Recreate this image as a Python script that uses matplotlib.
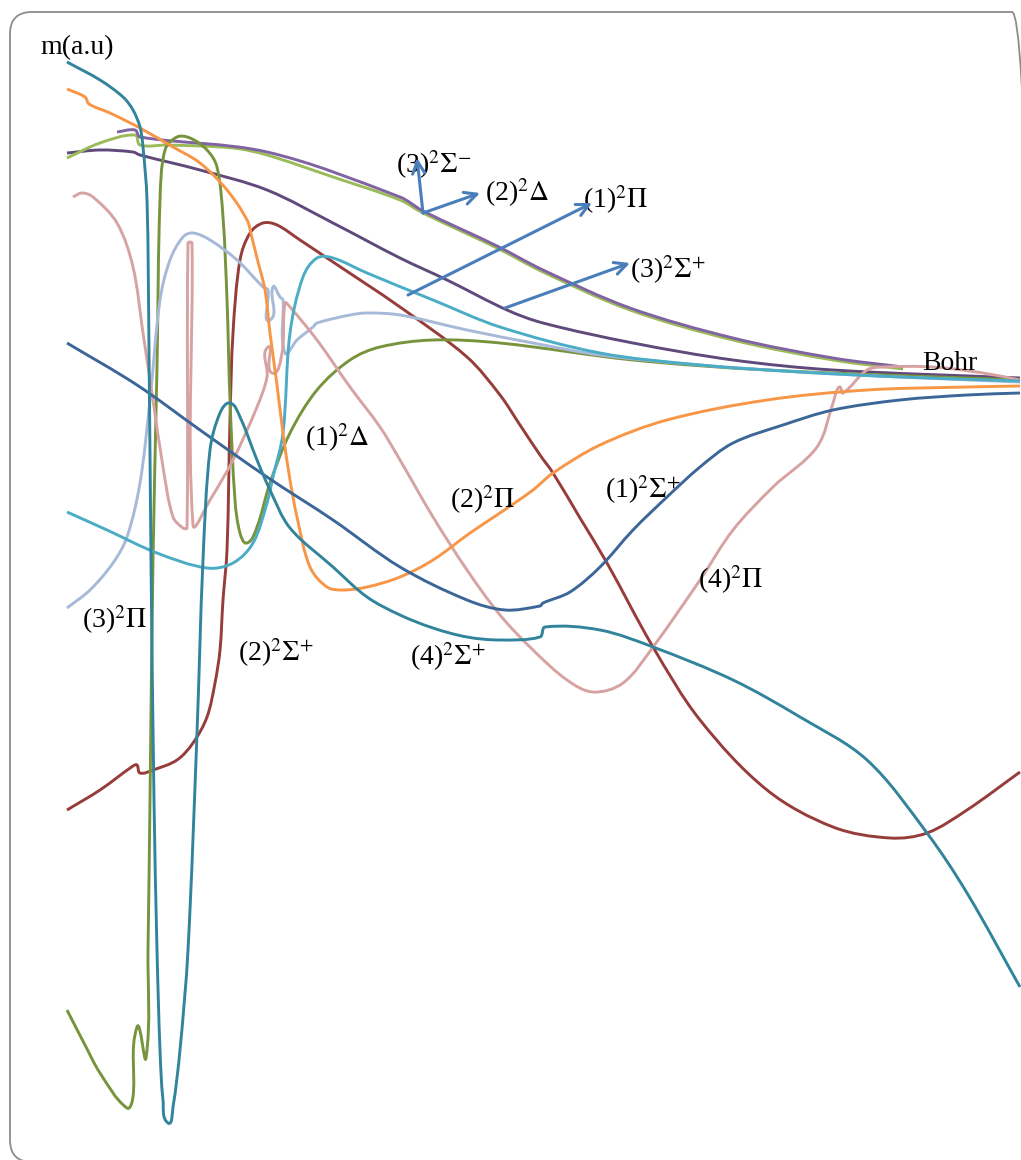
import matplotlib
matplotlib.use("Agg")
import numpy as np
import matplotlib.pyplot as plt
from matplotlib.patches import FancyBboxPatch, PathPatch
from matplotlib.path import Path

plt.rcParams['font.family'] = ['Liberation Serif', 'DejaVu Serif']
plt.rcParams['mathtext.fontset'] = 'stix'

# transition dipole moments m (a.u.) vs internuclear distance R (Bohr)
r_1sig = [2.00, 2.70, 3.33, 4.00, 4.66, 5.33, 6.00, 6.38, 6.73, 6.76, 7.03, 7.33, 7.66, 8.00, 8.33, 8.66, 9.16, 9.66, 10.33, 11.00, 11.53]
m_1sig = [0.37, -0.05, -0.50, -0.97, -1.40, -1.87, -2.20, -2.30, -2.26, -2.23, -2.12, -1.87, -1.50, -1.17, -0.87, -0.63, -0.45, -0.30, -0.20, -0.15, -0.13]

r_2pi = [2.00, 2.18, 2.22, 2.43, 2.73, 3.06, 3.33, 3.60, 3.80, 3.85, 3.90, 3.98, 4.03, 4.10, 4.16, 4.23, 4.30, 4.43, 4.60, 4.76, 5.00,
         5.33, 5.66, 6.03, 6.33, 6.66, 6.86, 7.33, 8.00, 9.00, 10.00, 11.00, 11.53]
m_2pi = [2.91, 2.83, 2.76, 2.67, 2.52, 2.33, 2.17, 1.90, 1.60, 1.42, 1.22, 0.90, 0.47, -0.05, -0.53, -1.00, -1.37, -1.87, -2.07, -2.10, -2.07,
         -1.97, -1.80, -1.53, -1.33, -1.10, -0.93, -0.65, -0.40, -0.20, -0.10, -0.07, -0.06]

r_4sig = [2.00, 2.33, 2.56, 2.66, 2.73, 2.76, 2.80, 2.82, 2.84, 2.87, 2.90, 2.93, 2.96, 3.01, 3.06, 3.13, 3.21, 3.30, 3.36, 3.43,
          3.53, 3.63, 3.73, 3.90, 4.03, 4.23, 4.66, 5.00, 5.33, 5.66, 6.00, 6.33, 6.73, 6.78, 7.33, 7.86, 8.66, 9.33, 10.00, 10.60,
          11.00, 11.53]
m_4sig = [3.18, 3.00, 2.83, 2.70, 2.53, 2.33, 1.80, 0.30, -1.80, -4.20, -5.70, -6.70, -7.20, -7.43, -7.27, -6.70, -5.70, -3.53, -1.80, -0.70,
          -0.33, -0.23, -0.37, -0.80, -1.10, -1.48, -1.87, -2.17, -2.35, -2.48, -2.57, -2.60, -2.57, -2.47, -2.50, -2.67, -3.00, -3.37, -3.80, -4.53,
          -5.13, -6.07]

r_1del = [2.00, 2.18, 2.33, 2.60, 2.66, 2.70, 2.79, 2.81, 2.83, 2.86, 2.90, 2.93, 2.98, 3.10, 3.23, 3.40, 3.50, 3.56, 3.60, 3.63,
          3.68, 3.73, 3.80, 3.90, 4.03, 4.23, 4.50, 4.83, 5.13, 5.66, 6.33, 7.66, 9.00, 11.53]
m_1del = [-6.30, -6.65, -6.93, -7.28, -7.17, -6.47, -6.78, -5.70, -4.20, -1.80, 0.13, 1.80, 2.30, 2.43, 2.42, 2.30, 2.13, 1.63, 0.80, -0.20,
          -1.20, -1.53, -1.63, -1.47, -1.03, -0.53, -0.10, 0.20, 0.33, 0.40, 0.37, 0.20, 0.10, 0.00]

r_3sigm = [2.00, 2.33, 2.68, 2.73, 3.00, 3.66, 4.00, 4.66, 5.33, 5.56, 6.30, 6.76, 7.63, 8.66, 9.66, 10.36]
m_3sigm = [2.22, 2.37, 2.45, 2.35, 2.35, 2.32, 2.25, 2.03, 1.80, 1.67, 1.32, 1.08, 0.70, 0.40, 0.20, 0.11]

r_2del = [2.50, 2.68, 2.73, 4.00, 5.33, 5.56, 6.30, 6.76, 7.63, 8.66, 9.66, 10.36]
m_2del = [2.48, 2.50, 2.43, 2.28, 1.83, 1.69, 1.34, 1.10, 0.72, 0.42, 0.22, 0.13]

r_1pi = [2.00, 2.33, 2.66, 2.73, 3.33, 4.00, 4.66, 5.33, 5.80, 6.40, 6.76, 7.66, 8.66, 9.66, 11.53]
m_1pi = [2.27, 2.30, 2.28, 2.25, 2.10, 1.90, 1.57, 1.22, 1.00, 0.70, 0.57, 0.37, 0.20, 0.10, 0.02]

r_4pi = [2.06, 2.15, 2.26, 2.50, 2.66, 2.76, 2.86, 2.96, 3.06, 3.16, 3.20, 3.21, 3.25, 3.26, 3.43, 3.66, 3.90, 4.00, 4.01, 4.05,
         4.15, 4.18, 4.23, 4.50, 4.83, 5.13, 5.33, 5.66, 6.00, 6.33, 6.66, 7.00, 7.26, 7.56, 7.86, 8.33, 8.66, 9.06, 9.50, 9.66,
         9.70, 9.73, 9.76, 10.00, 10.16, 10.66, 11.16, 11.53]
m_4pi = [1.83, 1.87, 1.83, 1.57, 1.13, 0.47, -0.20, -0.87, -1.37, -1.48, -1.48, 1.37, 1.37, -1.45, -1.20, -0.80, -0.27, 0.03, 0.33, 0.07,
         0.27, 0.77, 0.73, 0.40, -0.07, -0.47, -0.80, -1.37, -1.90, -2.35, -2.70, -3.00, -3.12, -3.03, -2.67, -2.00, -1.50, -1.07, -0.67, -0.23,
         -0.10, -0.07, -0.13, 0.10, 0.13, 0.13, 0.07, 0.00]

r_3pi = [2.00, 2.23, 2.46, 2.60, 2.73, 2.83, 2.93, 3.03, 3.16, 3.26, 3.43, 3.70, 3.96, 4.01, 4.03, 4.06, 4.13, 4.16, 4.18, 4.30,
         4.46, 4.50, 4.83, 5.00, 5.33, 6.00, 6.66, 7.33, 8.33, 9.33, 10.33, 11.53]
m_3pi = [-2.28, -2.10, -1.83, -1.57, -1.03, -0.20, 0.80, 1.20, 1.43, 1.47, 1.40, 1.20, 0.93, 0.90, 0.60, 0.93, 0.83, 0.80, 0.27, 0.40,
         0.53, 0.57, 0.65, 0.67, 0.65, 0.50, 0.37, 0.25, 0.15, 0.08, 0.03, -0.02]

r_3sigp = [2.00, 2.40, 2.90, 3.40, 3.66, 3.86, 4.00, 4.06, 4.16, 4.23, 4.36, 4.50, 4.66, 5.00, 5.66, 6.33, 7.33, 8.33, 9.33, 10.33, 11.53]
m_3sigp = [-1.32, -1.50, -1.73, -1.88, -1.83, -1.63, -1.23, -0.97, -0.53, 0.47, 1.03, 1.22, 1.22, 1.07, 0.80, 0.53, 0.27, 0.15, 0.08, 0.03, -0.01]

r_2sig = [2.00, 2.33, 2.66, 2.70, 2.73, 2.86, 3.10, 3.26, 3.40, 3.48, 3.53, 3.56, 3.60, 3.63, 3.66, 3.73, 3.83, 3.96, 4.10, 4.33,
          4.66, 5.33, 6.00, 6.33, 6.53, 6.73, 6.86, 7.13, 7.40, 7.86, 8.33, 9.00, 9.66, 10.23, 10.60, 11.00, 11.53]
m_2sig = [-4.30, -4.10, -3.86, -3.85, -3.93, -3.90, -3.80, -3.63, -3.37, -3.03, -2.70, -2.20, -1.70, -0.40, 0.47, 1.20, 1.47, 1.57, 1.55, 1.40,
          1.18, 0.73, 0.23, -0.15, -0.45, -0.75, -0.93, -1.38, -1.83, -2.67, -3.40, -4.10, -4.47, -4.58, -4.53, -4.30, -3.92]

series = [
    (r_2sig, m_2sig, '#963c3a'),
    (r_1pi, m_1pi, '#604a7b'),
    (r_3sigm, m_3sigm, '#9bbb59'),
    (r_2del, m_2del, '#8064a2'),
    (r_1del, m_1del, '#77933c'),
    (r_3pi, m_3pi, '#a7b9d8'),
    (r_4pi, m_4pi, '#d6a3a2'),
    (r_3sigp, m_3sigp, '#4bacc6'),
    (r_2pi, m_2pi, '#f79646'),
    (r_1sig, m_1sig, '#3c6698'),
    (r_4sig, m_4sig, '#31849b'),
]


def smooth_path(x, y):
    # smoothed line through the points (cubic segments, tangent along neighbours)
    p = np.column_stack([x, y]).astype(float)
    n = len(p)
    t = np.zeros_like(p)
    for i in range(n):
        d = p[min(i + 1, n - 1)] - p[max(i - 1, 0)]
        t[i] = d / (np.hypot(*d) or 1.0)
    verts = [p[0]]
    codes = [Path.MOVETO]
    for i in range(n - 1):
        L = np.hypot(*(p[i + 1] - p[i]))
        verts += [p[i] + t[i] * L / 3, p[i + 1] - t[i + 1] * L / 3, p[i + 1]]
        codes += [Path.CURVE4] * 3
    return Path(verts, codes)


# x and y units have the same pixel length, so the smoothing is isotropic
fig = plt.figure(figsize=(10.21, 11.6), dpi=100)
ax = fig.add_axes([0, 0, 1, 1])
for r, m, c in series:
    ax.add_patch(PathPatch(smooth_path(r, m), fill=False, edgecolor=c, lw=2.1,
                           joinstyle='round', capstyle='butt'))

ax.set_xlim(1.33, 11.54)
ax.set_ylim(-7.80, 3.80)
ax.axis('off')

# state labels
fs = 20
labels = [
    (1.73, 3.32, 'm(a.u)'),
    (5.29, 2.15, r'(3)$^{2}\Sigma^{-}$'),
    (6.18, 1.87, r'(2)$^{2}\Delta$'),
    (7.16, 1.80, r'(1)$^{2}\Pi$'),
    (7.63, 1.10, r'(3)$^{2}\Sigma^{+}$'),
    (10.55, 0.17, 'Bohr'),
    (4.38, -0.58, r'(1)$^{2}\Delta$'),
    (5.83, -1.20, r'(2)$^{2}\Pi$'),
    (7.38, -1.10, r'(1)$^{2}\Sigma^{+}$'),
    (8.31, -2.00, r'(4)$^{2}\Pi$'),
    (2.15, -2.40, r'(3)$^{2}\Pi$'),
    (3.71, -2.73, r'(2)$^{2}\Sigma^{+}$'),
    (5.43, -2.77, r'(4)$^{2}\Sigma^{+}$'),
]
for x, y, t in labels:
    ax.text(x, y, t, fontsize=fs, ha='left', va='center', color='black')

# pointer arrows for the crowded upper curves
arrows = [
    ((5.56, 1.67), (5.50, 2.22)),
    ((5.56, 1.67), (6.13, 1.87)),
    ((5.41, 0.85), (7.25, 1.77)),
    ((6.38, 0.72), (7.63, 1.17)),
]
for tail, head in arrows:
    ax.annotate('', xy=head, xytext=tail,
                arrowprops=dict(arrowstyle='->', color='#4a7ebb', lw=2.2,
                                mutation_scale=22, shrinkA=0, shrinkB=0))

# rounded chart frame, right and bottom sides run just off the image
frame = FancyBboxPatch((10, -2), 1024, 1150, boxstyle='round,pad=0,rounding_size=22',
                       transform=None, fill=False, edgecolor='#8c8c8c', lw=1.3)
fig.patches.append(frame)

fig.savefig('out.png', dpi=100)
